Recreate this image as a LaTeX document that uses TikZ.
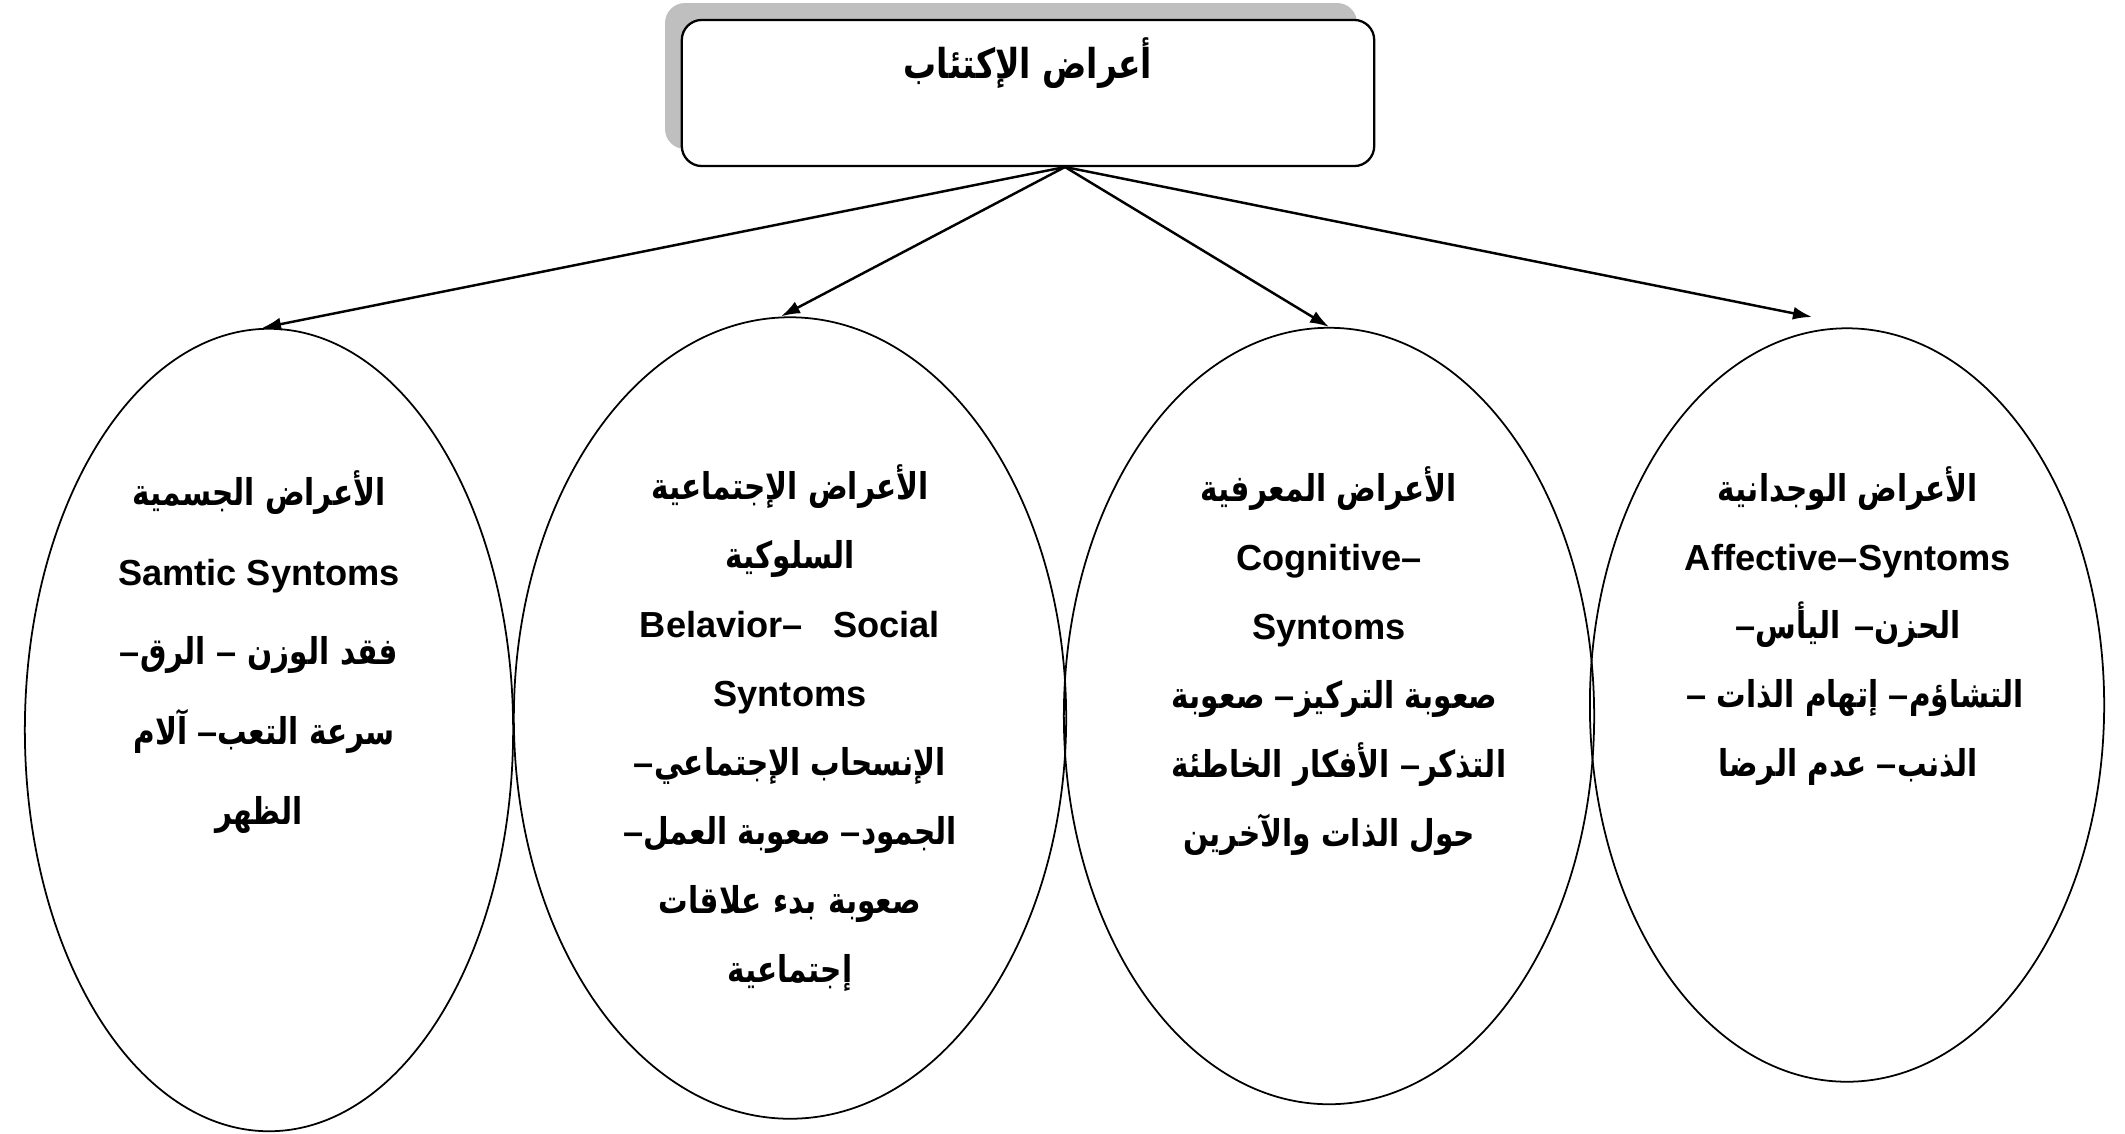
\documentclass[tikz,border=0pt]{standalone}
\usepackage{fontspec}
\setmainfont{Liberation Sans}
\newfontfamily\arabicfont[Script=Arabic,FakeStretch=0.8]{DejaVu Sans}
\newfontfamily\latinb{Liberation Sans}
\TeXXeTstate=1
\usetikzlibrary{shapes.geometric,arrows.meta}
\newcommand{\arfont}{\arabicfont\bfseries\fontsize{10.5}{19.6}\selectfont}
\newcommand{\ar}[1]{{\arfont #1}}
\newcommand{\arw}[2]{\hbox to #1{\arfont\spaceskip=\fontdimen2\font plus 1fil #2}}
\newcommand{\enw}[2]{\hbox to #1{\spaceskip=\fontdimen2\font plus 1fil #2}}
\newcommand{\dd}{{\latinb\fontsize{10.3}{19.6}\selectfont –}}
\definecolor{shadowgray}{HTML}{BFBFBF}
\tikzset{
  ell/.style={draw, ellipse, line width=0.5pt, inner sep=0pt},
  titlebox/.style={draw, rounded corners=0.2cm, line width=0.65pt, fill=white, inner sep=0pt,
    minimum width=6.92cm, minimum height=1.46cm},
  txt/.style={align=center, inner sep=0pt, font=\bfseries\fontsize{10.3}{19.6}\selectfont},
  txtwide/.style={align=center, inner sep=0pt, font=\bfseries\fontsize{10.3}{22.7}\selectfont},
  ttl/.style={inner sep=0pt, font=\arabicfont\bfseries\fontsize{11.7}{14}\selectfont},
  arr/.style={-{Latex[length=0.19cm,width=0.13cm]}, line width=0.7pt}
}
\begin{document}
\begin{tikzpicture}[x=0.01cm,y=-0.01cm]
\useasboundingbox (0,0) rectangle (2125,1133);
% title box with shadow
\fill[shadowgray, rounded corners=0.2cm] (665,3) rectangle (1357,149);
\node[titlebox] (title) at (1028,93) {};
\node[ttl] (ttltext) at (1028,63) {\beginR أعراض الإكتئاب\endR};
\coordinate (apex) at (1065,167);
% ellipses
\node[ell, minimum width=4.88cm, minimum height=8.02cm] (e1) at (269,730) {};
\node[ell, minimum width=5.52cm, minimum height=8.01cm] (e2) at (790,718) {};
\node[ell, minimum width=5.30cm, minimum height=7.76cm] (e3) at (1329,716) {};
\node[ell, minimum width=5.14cm, minimum height=7.53cm] (e4) at (1847,705) {};
\coordinate (end4) at (1812,317);
% arrows
\draw[arr] (apex) -- ([xshift=-0.07cm]e1.north);
\draw[arr] (apex) -- ([xshift=-0.09cm]e2.north);
\draw[arr] (apex) -- (e3.north);
\draw[arr] (apex) -- (end4);
% texts
\node[txtwide] (t1) at (259,652) {\ar{\beginR الأعراض الجسمية\endR}\\
Samtic Syntoms\\
\arw{2.78cm}{\beginR فقد الوزن \dd{} الرق\dd\endR}\\
\arw{2.51cm}{\beginR سرعة التعب\dd{} آلام\endR}\\
\ar{\beginR الظهر\endR}};
\node[txt] (t2) at (790,728) {\arw{2.77cm}{\beginR الأعراض الإجتماعية\endR}\\
\ar{\beginR السلوكية\endR}\\
\enw{3.0cm}{Belavior– Social}\\
Syntoms\\
\arw{3.12cm}{\beginR الإنسحاب الإجتماعي\dd\endR}\\
\arw{3.33cm}{\beginR الجمود\dd{} صعوبة العمل\dd\endR}\\
\arw{2.62cm}{\beginR صعوبة بدء علاقات\endR}\\
\ar{\beginR إجتماعية\endR}};
\node[txt] (t3) at (1329,661) {\ar{\beginR الأعراض المعرفية\endR}\\
Cognitive–\\
Syntoms\\
\arw{3.14cm}{\beginR صعوبة التركيز\dd{} صعوبة\endR}\\
\arw{3.15cm}{\beginR التذكر\dd{} الأفكار الخاطئة\endR}\\
\ar{\beginR حول الذات والآخرين\endR}};
\node[txt] (t4) at (1848,626) {\ar{\beginR الأعراض الوجدانية\endR}\\
Affective–Syntoms\\
\arw{2.25cm}{\beginR الحزن\dd{} اليأس\dd\endR}\\
\arw{3.23cm}{\beginR التشاؤم\dd{} إتهام الذات \dd\endR}\\
\ar{\beginR الذنب\dd{} عدم الرضا\endR}};
\end{tikzpicture}
\end{document}
